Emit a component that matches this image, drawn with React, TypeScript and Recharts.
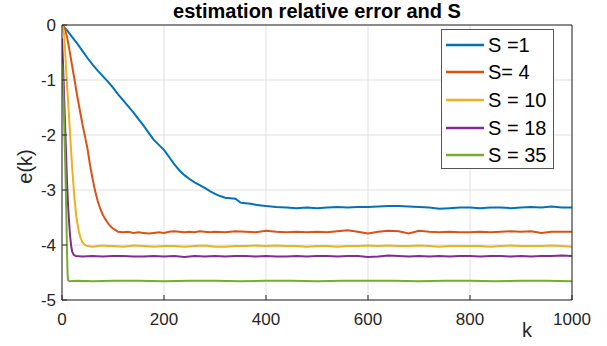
import React from 'react';
import { LineChart, Line, XAxis, YAxis, CartesianGrid, Legend } from 'recharts';

// [k, e(k)]
const s1: number[][] = [
  [0, 0], [10, -0.1], [20, -0.22], [30, -0.34], [40, -0.47], [50, -0.6], [60, -0.72], [70, -0.83],
  [80, -0.93], [90, -1.03], [100, -1.14], [110, -1.26], [120, -1.37], [130, -1.48], [140, -1.59],
  [150, -1.71], [160, -1.83], [170, -1.96], [180, -2.09], [190, -2.18], [200, -2.27], [210, -2.4],
  [220, -2.53], [230, -2.64], [240, -2.73], [250, -2.8], [260, -2.86], [270, -2.91], [280, -2.96],
  [290, -3.02], [300, -3.07], [310, -3.11], [320, -3.14], [330, -3.15], [340, -3.16], [350, -3.23],
  [360, -3.24], [370, -3.25], [380, -3.27], [390, -3.28], [400, -3.29], [420, -3.31], [440, -3.32],
  [460, -3.33], [480, -3.32], [500, -3.33], [520, -3.32], [540, -3.31], [560, -3.32], [580, -3.31],
  [600, -3.31], [620, -3.3], [640, -3.29], [660, -3.29], [680, -3.3], [700, -3.31], [720, -3.32],
  [740, -3.34], [760, -3.33], [780, -3.32], [800, -3.32], [820, -3.33], [840, -3.32], [860, -3.32],
  [880, -3.33], [900, -3.32], [920, -3.31], [940, -3.32], [960, -3.3], [980, -3.32], [1000, -3.32],
];

const s4: number[][] = [
  [0, 0], [5, -0.05], [10, -0.22], [15, -0.48], [20, -0.75], [25, -1.02], [30, -1.3], [35, -1.55],
  [40, -1.8], [45, -2.02], [50, -2.25], [55, -2.55], [60, -2.8], [65, -3.02], [70, -3.2], [75, -3.34],
  [80, -3.45], [85, -3.53], [90, -3.6], [95, -3.66], [100, -3.7], [105, -3.73], [110, -3.76],
  [120, -3.77], [130, -3.76], [140, -3.78], [150, -3.77], [160, -3.78], [170, -3.79], [180, -3.78],
  [190, -3.77], [200, -3.78], [210, -3.76], [220, -3.75], [230, -3.76], [240, -3.77], [250, -3.76],
  [260, -3.77], [270, -3.75], [280, -3.76], [290, -3.77], [300, -3.76], [320, -3.77], [340, -3.75],
  [360, -3.76], [380, -3.77], [400, -3.74], [420, -3.76], [440, -3.77], [460, -3.76], [480, -3.77],
  [500, -3.76], [520, -3.77], [540, -3.75], [560, -3.73], [580, -3.76], [600, -3.79], [620, -3.76],
  [640, -3.74], [660, -3.75], [680, -3.79], [700, -3.74], [720, -3.76], [740, -3.77], [760, -3.76],
  [780, -3.77], [800, -3.77], [820, -3.76], [840, -3.77], [860, -3.76], [880, -3.75], [900, -3.76],
  [920, -3.75], [940, -3.78], [960, -3.76], [980, -3.76], [1000, -3.76],
];

const s10: number[][] = [
  [0, 0], [2, -0.05], [4, -0.15], [6, -0.45], [8, -0.8], [10, -1.1], [12, -1.4], [14, -1.7],
  [16, -2.0], [18, -2.3], [20, -2.6], [22, -2.85], [24, -3.1], [26, -3.3], [28, -3.48], [30, -3.6],
  [33, -3.75], [36, -3.86], [40, -3.95], [45, -4.0], [50, -4.02], [60, -4.03], [70, -4.02], [80, -4.01],
  [90, -4.02], [100, -4.02], [120, -4.03], [140, -4.01], [160, -4.02], [180, -4.03], [200, -4.02],
  [220, -4.02], [240, -4.03], [260, -4.02], [280, -4.01], [300, -4.03], [320, -4.03], [340, -4.02],
  [360, -4.02], [380, -4.01], [400, -4.02], [420, -4.01], [440, -4.02], [460, -4.02], [480, -4.03],
  [500, -4.02], [520, -4.02], [540, -4.03], [560, -4.02], [580, -4.02], [600, -4.01], [620, -4.02],
  [640, -4.01], [660, -4.02], [680, -4.02], [700, -4.01], [720, -4.02], [740, -4.03], [760, -4.02],
  [780, -4.02], [800, -4.02], [820, -4.02], [840, -4.03], [860, -4.02], [880, -4.01], [900, -4.02],
  [920, -4.02], [940, -4.02], [960, -4.01], [980, -4.02], [1000, -4.03],
];

const s18: number[][] = [
  [0, -0.24], [2, -0.7], [4, -1.25], [6, -1.8], [8, -2.35], [10, -2.9], [12, -3.3], [14, -3.6],
  [16, -3.85], [18, -4.02], [20, -4.12], [23, -4.18], [27, -4.2], [40, -4.21], [60, -4.2], [80, -4.21],
  [100, -4.2], [120, -4.2], [140, -4.21], [160, -4.21], [180, -4.2], [200, -4.21], [220, -4.2],
  [240, -4.22], [260, -4.2], [280, -4.21], [300, -4.2], [320, -4.21], [340, -4.2], [360, -4.2],
  [380, -4.21], [400, -4.2], [420, -4.21], [440, -4.21], [460, -4.2], [480, -4.21], [500, -4.2],
  [520, -4.2], [540, -4.21], [560, -4.2], [580, -4.2], [600, -4.22], [620, -4.21], [640, -4.19],
  [660, -4.2], [680, -4.21], [700, -4.2], [720, -4.21], [740, -4.2], [760, -4.21], [780, -4.2],
  [800, -4.2], [820, -4.21], [840, -4.2], [860, -4.2], [880, -4.21], [900, -4.2], [920, -4.21],
  [940, -4.2], [960, -4.2], [980, -4.19], [1000, -4.2],
];

const s35: number[][] = [
  [0, -0.7], [2, -1.1], [4, -1.7], [6, -2.4], [8, -3.2], [9, -3.7], [10, -4.2], [11, -4.55],
  [12, -4.64], [15, -4.66], [30, -4.65], [60, -4.66], [100, -4.65], [150, -4.65], [200, -4.66],
  [250, -4.65], [300, -4.65], [350, -4.66], [400, -4.65], [450, -4.65], [500, -4.66], [550, -4.65],
  [600, -4.65], [650, -4.65], [700, -4.66], [750, -4.65], [800, -4.65], [850, -4.66], [900, -4.65],
  [950, -4.65], [1000, -4.66],
];

const names = ['S =1', 'S= 4', 'S = 10', 'S = 18', 'S = 35'];
const colors = ['#0072BD', '#D95319', '#EDB120', '#7E2F8E', '#77AC30'];
const seriesData = [s1, s4, s10, s18, s35];

const xTicks = [0, 200, 400, 600, 800, 1000];
const yTicks = [0, -1, -2, -3, -4, -5];

const FONT = '"Liberation Sans", Arial, Helvetica, sans-serif';
const AXIS = '#262626';

const toRows = (pts: number[][]) => pts.map(([k, e]) => ({ k, e }));

const TitleLabel = ({ viewBox }: any) => (
  <text
    x={viewBox.x + viewBox.width / 2}
    y={viewBox.y + 18}
    textAnchor="middle"
    fontFamily={FONT}
    fontSize={20}
    fontWeight="bold"
    fill="#000"
  >
    estimation relative error and S
  </text>
);

const YLabel = ({ viewBox }: any) => {
  const cx = viewBox.x + 25;
  const cy = viewBox.y + viewBox.height / 2 + 4;
  return (
    <text
      x={cx}
      y={cy}
      transform={`rotate(-90, ${cx}, ${cy})`}
      textAnchor="middle"
      dominantBaseline="central"
      fontFamily={FONT}
      fontSize={20}
      fill={AXIS}
    >
      e(k)
    </text>
  );
};

const XLabel = ({ viewBox }: any) => (
  <text x={viewBox.x + 465} y={viewBox.y + 37} textAnchor="middle" fontFamily={FONT} fontSize={20} fill={AXIS}>
    k
  </text>
);

const renderLegend = () => (
  <div
    style={{
      boxSizing: 'border-box',
      width: 113,
      height: 140,
      border: '1px solid #555',
      background: '#fff',
      paddingTop: 1,
      fontFamily: FONT,
    }}
  >
    {names.map((n, i) => (
      <div key={n} style={{ display: 'flex', alignItems: 'center', height: 27.6, whiteSpace: 'pre' }}>
        <svg width={46} height={10} style={{ flex: 'none' }}>
          <line x1={4} x2={42} y1={5} y2={5} stroke={colors[i]} strokeWidth={2.5} />
        </svg>
        <span style={{ fontSize: 20, color: '#000', lineHeight: '20px' }}>{n}</span>
      </div>
    ))}
  </div>
);

export default function App() {
  const tickStyle = { fontFamily: FONT, fontSize: 17, fill: AXIS };
  return (
    <div style={{ position: 'absolute', left: 0, top: 0, background: '#fff' }}>
      <LineChart width={607} height={346} margin={{ top: 0, right: 0, bottom: 0, left: 0 }}>
        <CartesianGrid stroke="#dfdfdf" />
        <XAxis
          dataKey="k"
          type="number"
          domain={[0, 1000]}
          ticks={xTicks}
          interval={0}
          height={46}
          allowDataOverflow
          stroke={AXIS}
          tickSize={-5}
          tickMargin={18}
          tick={tickStyle}
          label={<XLabel />}
        />
        <XAxis
          xAxisId="top"
          orientation="top"
          dataKey="k"
          type="number"
          domain={[0, 1000]}
          ticks={xTicks}
          interval={0}
          height={25}
          allowDataOverflow
          stroke={AXIS}
          tickSize={-5}
          tick={false}
          label={<TitleLabel />}
        />
        <YAxis
          type="number"
          domain={[-5, 0]}
          ticks={yTicks}
          interval={0}
          width={62}
          allowDataOverflow
          stroke={AXIS}
          tickSize={-5}
          tickMargin={11}
          tick={tickStyle}
          label={<YLabel />}
        />
        <YAxis
          yAxisId="right"
          orientation="right"
          type="number"
          domain={[-5, 0]}
          ticks={yTicks}
          interval={0}
          width={35}
          allowDataOverflow
          stroke={AXIS}
          tickSize={-5}
          tick={false}
        />
        {seriesData.map((pts, i) => (
          <Line
            key={names[i]}
            data={toRows(pts)}
            dataKey="e"
            name={names[i]}
            type="linear"
            stroke={colors[i]}
            strokeWidth={2}
            dot={false}
            activeDot={false}
            isAnimationActive={false}
          />
        ))}
        <Legend
          content={renderLegend}
          layout="horizontal"
          verticalAlign="middle"
          wrapperStyle={{ left: 441, top: 29, width: 113, height: 140 }}
        />
      </LineChart>
    </div>
  );
}
